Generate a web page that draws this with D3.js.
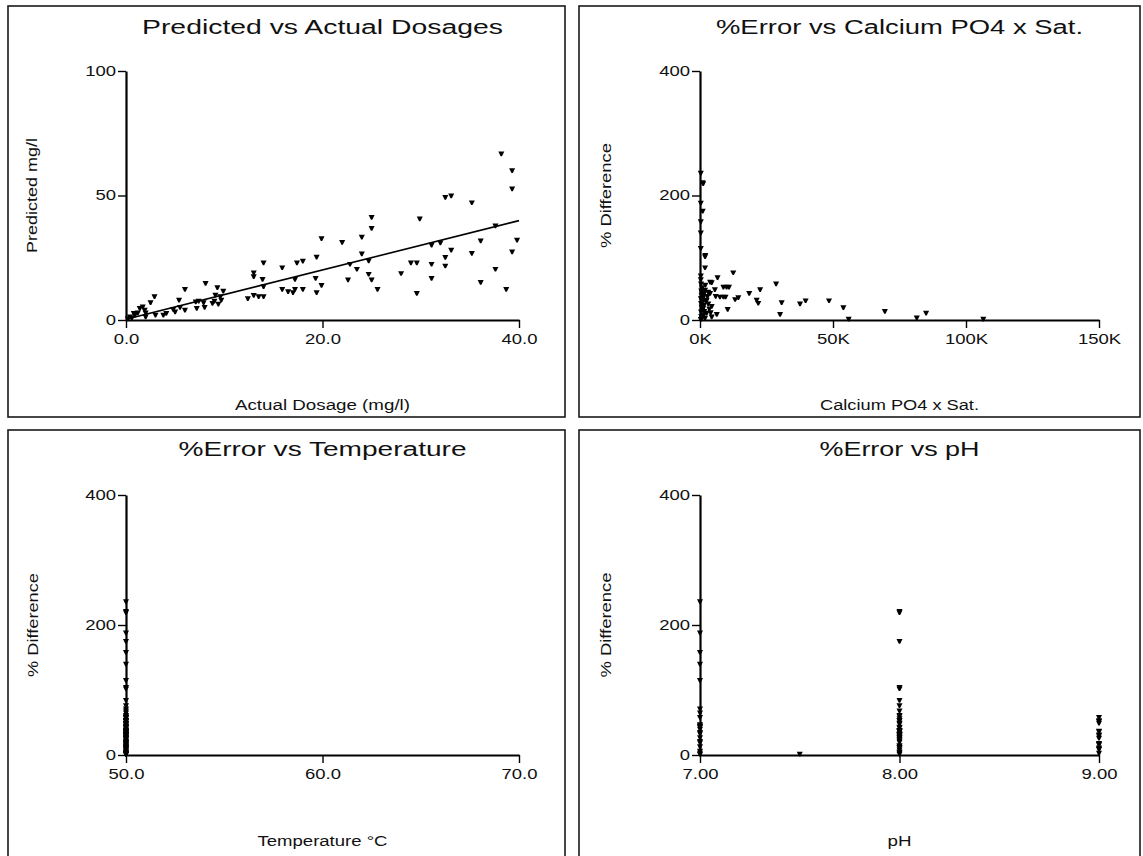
<!DOCTYPE html>
<html><head><meta charset="utf-8">
<script src="https://cdn.jsdelivr.net/npm/d3@7"></script>
<style>
body{margin:0;background:#fff}
text{font-family:"Liberation Sans",Arial,sans-serif;fill:#111}
</style>
</head><body>
<svg id="c" width="1143" height="856"></svg>
<script>
// ---- Panel 1: predicted vs actual dosage (mg/l)
const actualDosage = [38.2,39.3,39.3,32.5,33.1,35.2,25.0,25.0,29.9,19.9,22.0,24.0,24.0,24.7,22.8,23.5,24.7,25.0,25.6,19.9,22.6,28.0,29.0,29.6,31.1,31.1,29.6,31.1,32.0,33.1,32.5,32.5,35.2,36.1,36.1,37.6,37.6,39.3,38.7,39.8,
14.0,15.9,17.4,18.0,19.4,13.0,13.0,13.9,12.4,13.0,13.5,14.0,14.0,15.9,16.5,17.0,17.2,18.0,17.2,19.3,19.4,6.0,8.1,2.9,2.5,9.3,9.9,9.1,5.4,5.5,6.0,7.1,7.4,7.2,8.0,8.8,9.0,9.6,9.7,9.4,7.9,4.8,5.0,4.1,3.8,3.0,2.0,1.4,1.9,1.7,1.2,0.8,0.9,0.4,0.6,0.2,2.0];
const predictedDosage = [66.7,60.0,52.7,49.3,49.9,47.1,41.2,36.8,40.6,32.7,31.2,33.3,26.6,23.8,22.4,20.4,18.4,16.1,12.3,13.9,16.1,18.7,23.0,23.0,22.4,16.7,10.7,30.1,31.0,28.1,25.2,21.7,26.8,31.8,15.1,37.8,20.4,27.4,12.3,32.1,
23.0,21.0,23.0,23.7,25.3,19.0,17.4,16.3,8.6,9.9,9.4,9.4,13.4,12.3,11.4,11.0,12.3,12.3,16.3,16.7,11.0,12.3,14.7,9.4,7.0,13.0,11.6,10.0,8.0,5.1,4.0,7.3,7.6,4.7,5.1,6.7,7.6,9.4,8.0,6.4,7.0,4.3,3.3,2.7,2.0,2.0,1.3,4.7,4.0,5.3,2.9,2.7,2.0,1.3,0.9,0.5,2.9];
const fitActual = [0, 40];
const fitPredicted = [0.3, 39.9];

// ---- Panels 2-4: % difference against calcium PO4 x sat, temperature, pH
const calciumPO4 = [300,1000,1200,300,1000,300,300,300,2000,1900,
1900,300,300,12500,3800,4400,6600,8800,10000,10900,
5600,3100,1900,7500,8800,9600,13200,14400,5900,3800,
2500,3100,4400,10400,1200,2500,6300,4400,1900,18500,
22600,21300,21900,28600,30700,30100,37600,39700,48500,53900,
55900,69500,81500,85000,106500,400,800,500,1500,600,
1200,500,1000,400,1500,600,900,400,1400,500,
800,300,2200,2800,1600,3500,700,400,2000,4000];
const pctDifference = [236,221,219,188,175,158,140,115,104,102,
84,71,65,76,61,60,68,53,53,53,
49,45,48,37,37,37,33,36,38,43,
32,26,22,17,19,11,9,5,3,43,
49,32,27,58,28,9,26,31,31,20,
1.5,14,3.5,11,1.5,58,52,47,42,40,
36,33,30,27,24,21,16,13,8,6,
3,1,30,38,14,18,44,35,56,12];
const pHValues = [7,8,8,7,8,7,7,7,8,8,
8,7,7,8,8,8,8,8,9,8,
8,7,8,8,9,8,8,9,8,7,
8,9,8,9,7,8,9,8,7,8,
9,8,8,9,8,9,8,8,9,8,
7.5,8,8,9,8,7,9,7,8,7,
8,7,9,7,8,7,9,7,8,7,
9,7,8,8,8,9,7,7,8,8];
const temperatureC = [50,50,50,50,50,50,50,50,50,50,
50,50,50,50,50,50,50,50,50,50,
50,50,50,50,50,50,50,50,50,50,
50,50,50,50,50,50,50,50,50,50,
50,50,50,50,50,50,50,50,50,50,
50,50,50,50,50,50,50,50,50,50,
50,50,50,50,50,50,50,50,50,50,
50,50,50,50,50,50,50,50,50,50];

// ---- Ticks
const dosageXTicks = [0, 20, 40];
const dosageYTicks = [0, 50, 100];
const calciumTicks = [0, 50000, 100000, 150000];
const pctTicks = [0, 200, 400];
const tempTicks = [50, 60, 70];
const pHTicks = [7, 8, 9];

const titles = ["Predicted vs Actual Dosages", "%Error vs Calcium PO4 x Sat.", "%Error vs Temperature", "%Error vs pH"];
const xLabels = ["Actual Dosage (mg/l)", "Calcium PO4 x Sat.", "Temperature \u00B0C", "pH"];
const yLabels = ["Predicted mg/l", "% Difference", "% Difference", "% Difference"];

const svg = d3.select("#c");
svg.append("rect").attr("width",1143).attr("height",856).attr("fill","#fff");

function stretch(sel, k){
  sel.each(function(){
    const w = this.getComputedTextLength();
    d3.select(this).attr("textLength", w*k).attr("lengthAdjust","spacingAndGlyphs");
  });
}

const markerPath = "M-3,-2.3 L3,-2.3 L0.7,2.4 L-0.7,2.4 Z";

const panels = [
  {frame:[8,6,565,417], px:[126,519], py:[320,71], titleY:34, xLabY:410, yLabX:37,
   xDom:[0,40], yDom:[0,100], xTicks:dosageXTicks, yTicks:dosageYTicks,
   xFmt:d3.format(".1f"), yFmt:d3.format("d"),
   xs:actualDosage, ys:predictedDosage, titleW:361, xLabW:175, yLabW:115, fit:true},
  {frame:[579,6,1140,417], px:[700,1099], py:[320,71], titleY:34, xLabY:410, yLabX:611,
   xDom:[0,150000], yDom:[0,400], xTicks:calciumTicks, yTicks:pctTicks,
   xFmt:d=>(d/1000)+"K", yFmt:d3.format("d"),
   xs:calciumPO4, ys:pctDifference, titleW:367, xLabW:159, yLabW:105},
  {frame:[8,430,565,860], px:[126,519], py:[755,495], titleY:456, xLabY:846, yLabX:38,
   xDom:[50,70], yDom:[0,400], xTicks:tempTicks, yTicks:pctTicks,
   xFmt:d3.format(".1f"), yFmt:d3.format("d"),
   xs:temperatureC, ys:pctDifference, titleW:288, xLabW:130, yLabW:104},
  {frame:[579,430,1140,860], px:[700,1099], py:[755,495], titleY:456, xLabY:846, yLabX:611,
   xDom:[7,9], yDom:[0,400], xTicks:pHTicks, yTicks:pctTicks,
   xFmt:d3.format(".2f"), yFmt:d3.format("d"),
   xs:pHValues, ys:pctDifference, titleW:160, xLabW:24, yLabW:105}
];

panels.forEach((p, i) => {
  const g = svg.append("g");
  const [fx0, fy0, fx1, fy1] = p.frame;
  g.append("rect").attr("x",fx0).attr("y",fy0).attr("width",fx1-fx0).attr("height",fy1-fy0)
    .attr("fill","none").attr("stroke","#1a1a1a").attr("stroke-width",1.6);

  const x = d3.scaleLinear().domain(p.xDom).range(p.px);
  const y = d3.scaleLinear().domain(p.yDom).range(p.py);
  const cx = (p.px[0]+p.px[1])/2, cy = (p.py[0]+p.py[1])/2;

  // title
  g.append("text").attr("x",cx).attr("y",p.titleY).attr("text-anchor","middle")
    .style("font-size","20px").text(titles[i])
    .attr("textLength",p.titleW).attr("lengthAdjust","spacingAndGlyphs");

  // x label
  g.append("text").attr("x",cx).attr("y",p.xLabY).attr("text-anchor","middle")
    .style("font-size","14px").text(xLabels[i])
    .attr("textLength",p.xLabW).attr("lengthAdjust","spacingAndGlyphs");

  // y label
  g.append("text").attr("transform",`translate(${p.yLabX},${cy}) rotate(-90)`)
    .attr("text-anchor","middle").style("font-size","14px").text(yLabels[i])
    .attr("textLength",p.yLabW).attr("lengthAdjust","spacingAndGlyphs");

  // regression line
  if (p.fit) {
    g.append("line").attr("x1",x(fitActual[0])).attr("y1",y(fitPredicted[0]))
      .attr("x2",x(fitActual[1])).attr("y2",y(fitPredicted[1]))
      .attr("stroke","#000").attr("stroke-width",1.6);
  }

  // points
  g.append("g").selectAll("path").data(p.xs.map((v,k)=>[v,p.ys[k]])).join("path")
    .attr("d",markerPath)
    .attr("transform",d=>`translate(${x(d[0])},${y(d[1])})`)
    .attr("fill","#000");

  // axes
  const xa = g.append("g").attr("transform",`translate(0,${p.py[0]})`)
    .call(d3.axisBottom(x).tickValues(p.xTicks).tickFormat(p.xFmt).tickSizeInner(8).tickSizeOuter(0).tickPadding(6));
  const ya = g.append("g").attr("transform",`translate(${p.px[0]},0)`)
    .call(d3.axisLeft(y).tickValues(p.yTicks).tickFormat(p.yFmt).tickSizeInner(8).tickSizeOuter(0).tickPadding(2));
  [xa, ya].forEach(a => {
    a.select(".domain").attr("stroke","#000").attr("stroke-width",2.2);
    a.selectAll(".tick line").attr("stroke","#000").attr("stroke-width",1.4);
    a.selectAll(".tick text").attr("fill","#111").style("font-size","14px")
      .style("font-family",'"Liberation Sans",Arial,sans-serif');
    stretch(a.selectAll(".tick text"), 1.32);
  });
});
</script>
</body></html>
